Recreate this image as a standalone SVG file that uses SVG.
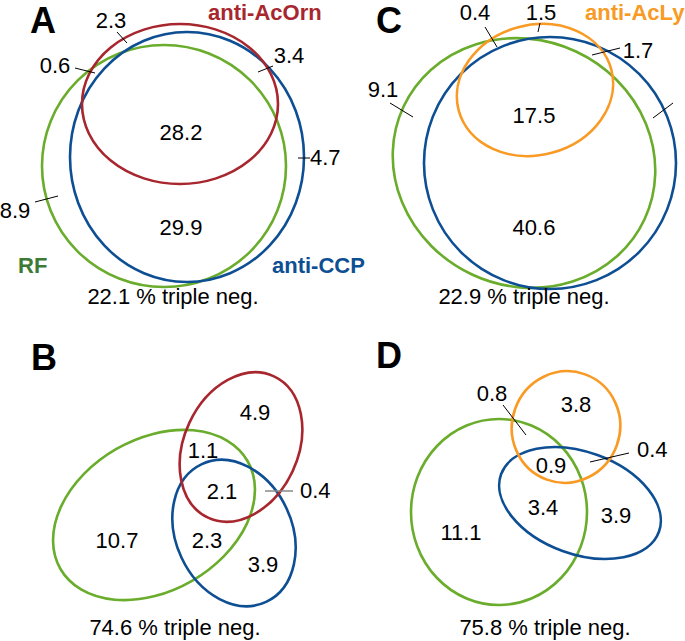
<svg xmlns="http://www.w3.org/2000/svg" width="685" height="641" viewBox="0 0 685 641">
<style>
.e{fill:none;stroke-width:2.6}
.red{stroke:#a8262e}
.blue{stroke:#0e4f94}
.green{stroke:#6aac2c}
.orange{stroke:#f89a24}
text{font-family:"Liberation Sans",Arial,sans-serif;font-size:22px;fill:#000}
.c{text-anchor:middle}
.h{font-weight:bold;font-size:36px}
.lab{font-weight:bold;font-size:22px}
.ld{stroke:#000;stroke-width:1;fill:none}
</style>
<rect width="685" height="641" fill="#fff"/>

<!-- Panel A -->
<g id="panelA">
  <text class="h" x="30" y="33">A</text>
  <g id="A-RF"><ellipse class="e green" cx="164" cy="166" rx="122" ry="121"/></g>
  <g id="A-CCP"><ellipse class="e blue" cx="187" cy="157" rx="117" ry="125"/></g>
  <g id="A-AcOrn"><ellipse class="e red" cx="180" cy="104" rx="98" ry="80"/></g>
  <g id="A-leaders">
    <line class="ld" x1="117" y1="32" x2="127" y2="43"/>
    <line class="ld" x1="75" y1="68" x2="95" y2="73"/>
    <line class="ld" x1="258" y1="72" x2="273" y2="66"/>
    <line class="ld" x1="298" y1="158" x2="310" y2="158"/>
    <line class="ld" x1="35" y1="202" x2="58" y2="196"/>
  </g>
  <text class="lab" x="208" y="20" style="fill:#a8262e">anti-AcOrn</text>
  <text class="lab" x="272" y="273" style="fill:#0e4f94">anti-CCP</text>
  <text class="lab" x="18" y="273" style="fill:#3d7a35">RF</text>
  <text class="c" x="111" y="28">2.3</text>
  <text class="c" x="55" y="73">0.6</text>
  <text class="c" x="289" y="63">3.4</text>
  <text class="c" x="181" y="140">28.2</text>
  <text x="310" y="165">4.7</text>
  <text class="c" x="15" y="218">8.9</text>
  <text class="c" x="181" y="235">29.9</text>
  <text class="c" x="173" y="304">22.1 % triple neg.</text>
</g>

<!-- Panel C -->
<g id="panelC">
  <text class="h" x="376" y="33">C</text>
  <g id="C-RF"><ellipse class="e green" cx="524" cy="163" rx="133" ry="123" transform="rotate(25 524 163)"/></g>
  <g id="C-CCP"><ellipse class="e blue" cx="550" cy="163" rx="126" ry="126"/></g>
  <g id="C-AcLy"><ellipse class="e orange" cx="535" cy="90" rx="79" ry="65" transform="rotate(-15 535 90)"/></g>
  <g id="C-leaders">
    <line class="ld" x1="485" y1="27" x2="497" y2="47"/>
    <line class="ld" x1="540" y1="23" x2="538" y2="32"/>
    <line class="ld" x1="592" y1="55" x2="620" y2="48"/>
    <line class="ld" x1="390" y1="103" x2="413" y2="117"/>
    <line class="ld" x1="653" y1="118" x2="673" y2="103"/>
  </g>
  <text class="lab" x="585" y="20" style="fill:#f89a24">anti-AcLy</text>
  <text class="c" x="475" y="20">0.4</text>
  <text class="c" x="541" y="20">1.5</text>
  <text class="c" x="638" y="58">1.7</text>
  <text class="c" x="383" y="97">9.1</text>
  <text class="c" x="534" y="123">17.5</text>
  <text class="c" x="534" y="235">40.6</text>
  <text class="c" x="524" y="304">22.9 % triple neg.</text>
</g>

<!-- Panel B -->
<g id="panelB">
  <text class="h" x="31" y="370">B</text>
  <g id="B-RF"><ellipse class="e green" cx="154" cy="515" rx="108" ry="76" transform="rotate(-30 154 515)"/></g>
  <g id="B-CCP"><ellipse class="e blue" cx="234" cy="533" rx="58" ry="76" transform="rotate(-25 234 533)"/></g>
  <g id="B-AcOrn"><ellipse class="e red" cx="241" cy="447" rx="57" ry="78" transform="rotate(25 241 447)"/></g>
  <g id="B-leaders">
    <line x1="265" y1="491" x2="293" y2="491" stroke="#888" stroke-width="1.5"/>
  </g>
  <text class="c" x="255" y="420">4.9</text>
  <text class="c" x="203" y="458">1.1</text>
  <text class="c" x="222" y="499">2.1</text>
  <text x="300" y="498">0.4</text>
  <text class="c" x="117" y="548">10.7</text>
  <text class="c" x="207" y="548">2.3</text>
  <text class="c" x="263" y="572">3.9</text>
  <text class="c" x="175" y="635">74.6 % triple neg.</text>
</g>

<!-- Panel D -->
<g id="panelD">
  <text class="h" x="376" y="368">D</text>
  <g id="D-RF"><ellipse class="e green" cx="499" cy="512" rx="88" ry="93"/></g>
  <g id="D-CCP"><ellipse class="e blue" cx="580" cy="503" rx="84" ry="51" transform="rotate(20 580 503)"/></g>
  <g id="D-AcLy"><ellipse class="e orange" cx="566" cy="427" rx="54" ry="56" transform="rotate(20 566 427)"/></g>
  <g id="D-leaders">
    <line class="ld" x1="503" y1="405" x2="526" y2="435"/>
    <line class="ld" x1="590" y1="462" x2="629" y2="453"/>
  </g>
  <text class="c" x="492" y="401">0.8</text>
  <text class="c" x="576" y="412">3.8</text>
  <text x="637" y="457">0.4</text>
  <text class="c" x="551" y="473">0.9</text>
  <text class="c" x="543" y="515">3.4</text>
  <text class="c" x="616" y="523">3.9</text>
  <text class="c" x="461" y="540">11.1</text>
  <text class="c" x="545" y="635">75.8 % triple neg.</text>
</g>
</svg>
